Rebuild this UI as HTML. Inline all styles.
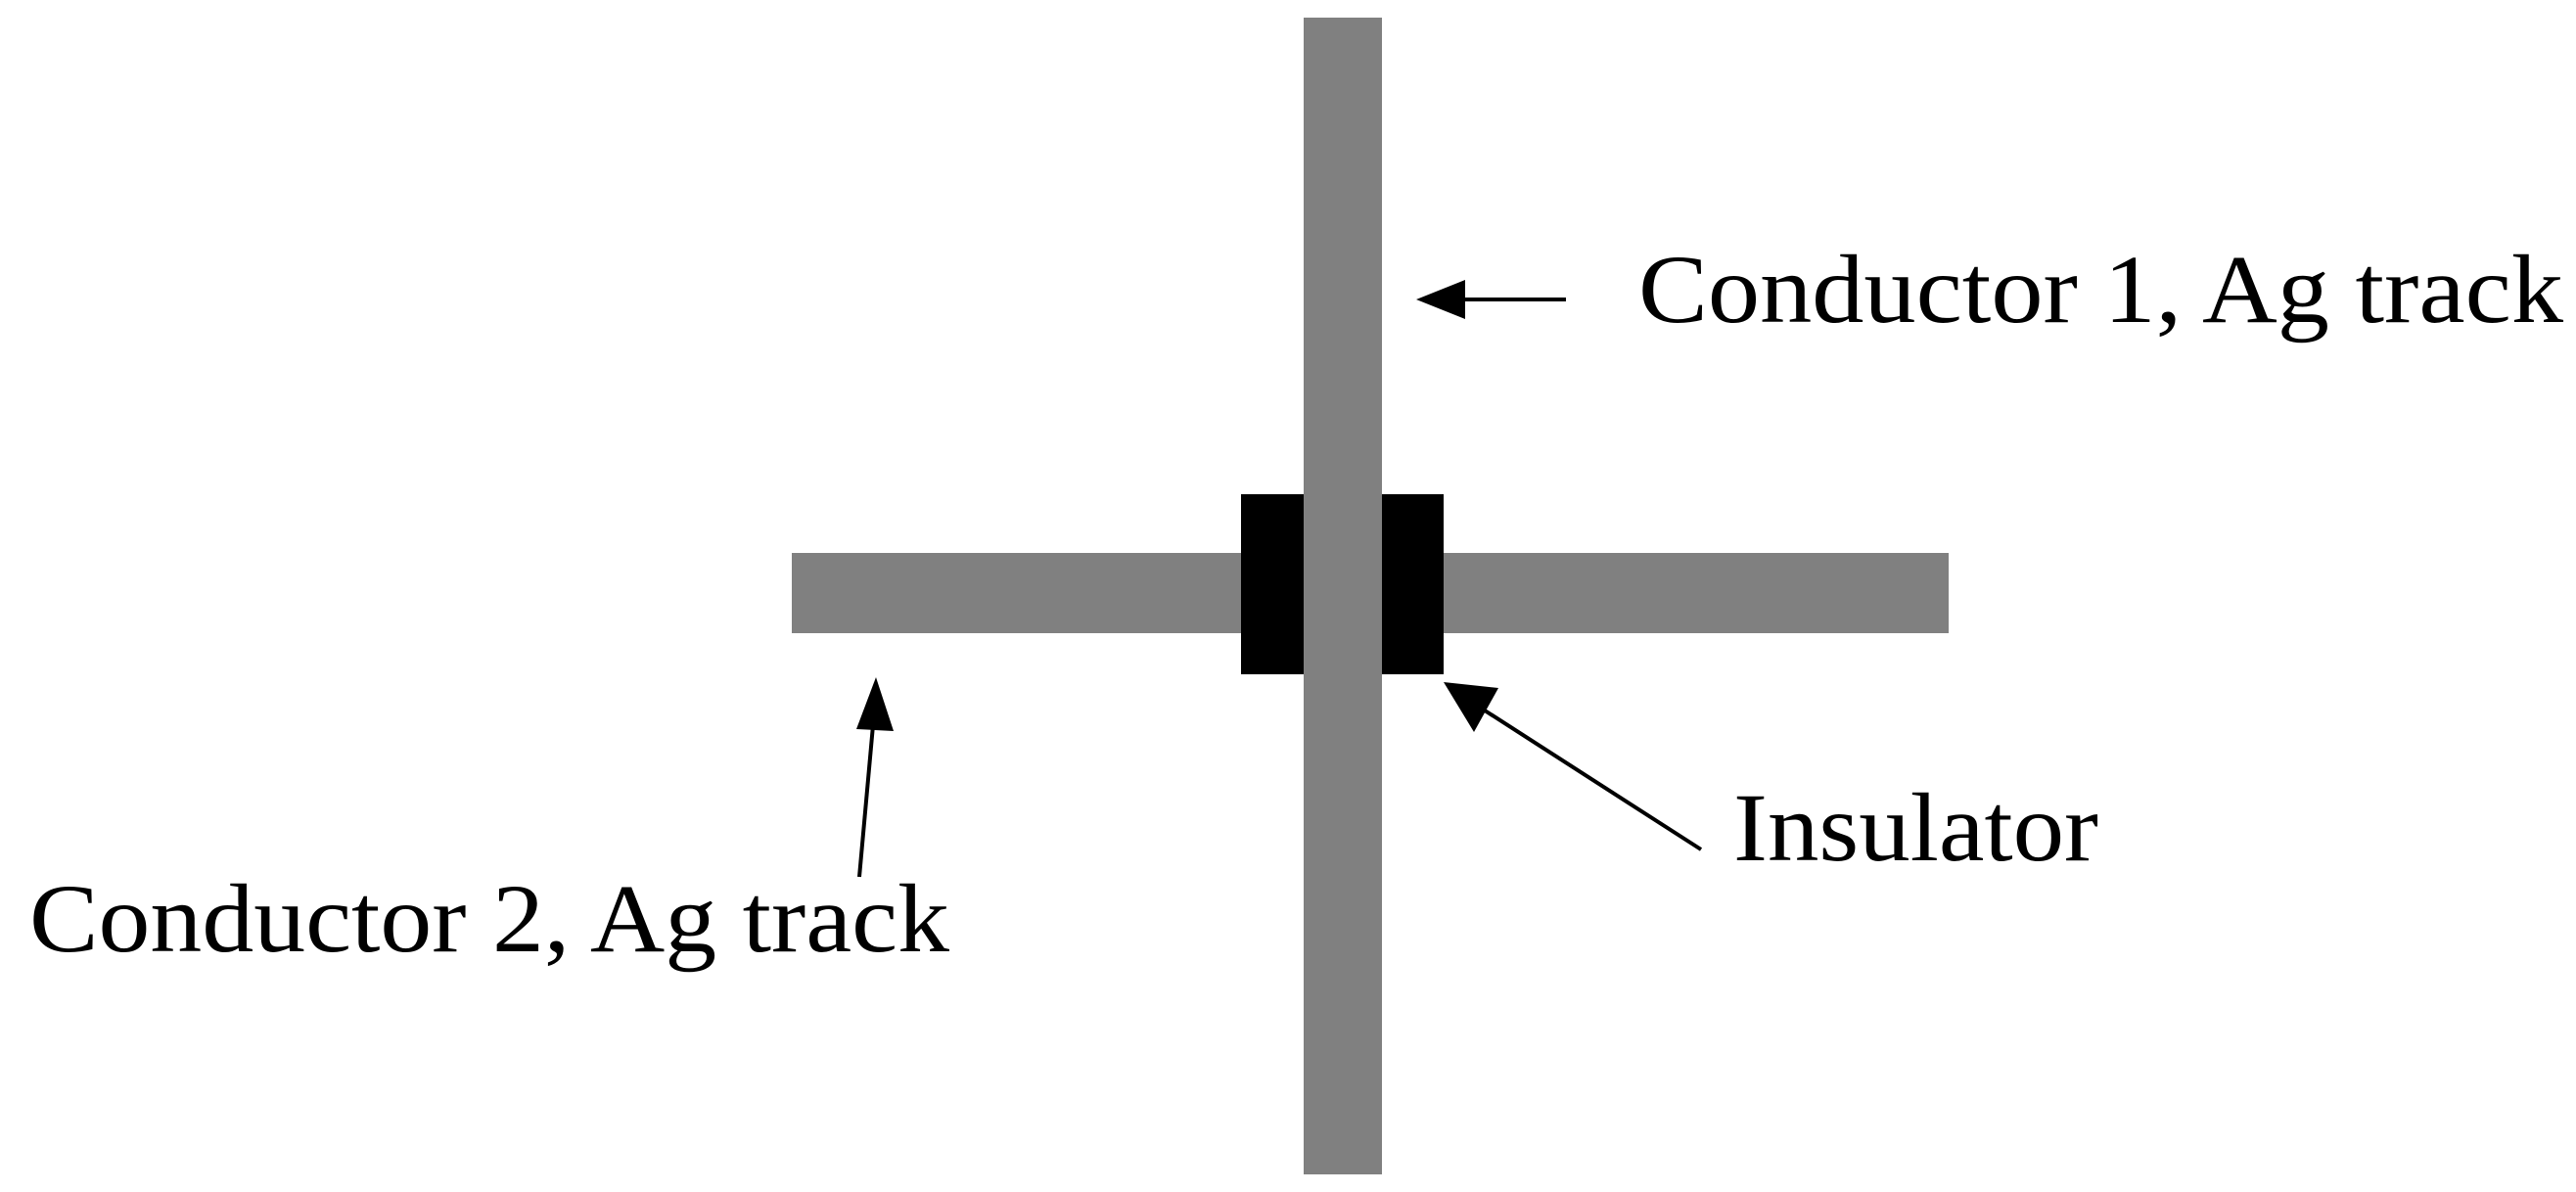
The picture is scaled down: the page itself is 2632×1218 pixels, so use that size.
<!DOCTYPE html>
<html><head><style>html,body{margin:0;padding:0;background:#fff;}svg{display:block}</style></head>
<body>
<svg width="2632" height="1218" viewBox="0 0 2632 1218" xmlns="http://www.w3.org/2000/svg">
<rect x="809" y="565" width="1182" height="82" fill="#808080"/>
<rect x="1268" y="505" width="68" height="184" fill="#000"/>
<rect x="1408" y="505" width="67" height="184" fill="#000"/>
<rect x="1332" y="18" width="80" height="1182" fill="#808080"/>
<!-- arrow 1 -->
<line x1="1600" y1="306" x2="1480" y2="306" stroke="#000" stroke-width="4"/>
<polygon points="1447,306 1497,286 1497,326" fill="#000"/>
<!-- insulator arrow -->
<line x1="1738" y1="868" x2="1500" y2="715" stroke="#000" stroke-width="4"/>
<polygon points="1475,697 1531,703 1506,748" fill="#000"/>
<!-- conductor 2 arrow -->
<line x1="878" y1="896" x2="893" y2="730" stroke="#000" stroke-width="4"/>
<polygon points="895,692 875,745 913,747" fill="#000"/>
<g font-family="Liberation Serif, serif" font-size="100" fill="#000">
<text x="1674" y="329" textLength="945" lengthAdjust="spacingAndGlyphs">Conductor 1, Ag track</text>
<text x="1771" y="879" textLength="373" lengthAdjust="spacingAndGlyphs">Insulator</text>
<text x="30" y="972" textLength="940" lengthAdjust="spacingAndGlyphs">Conductor 2, Ag track</text>
</g>
</svg>
</body></html>
